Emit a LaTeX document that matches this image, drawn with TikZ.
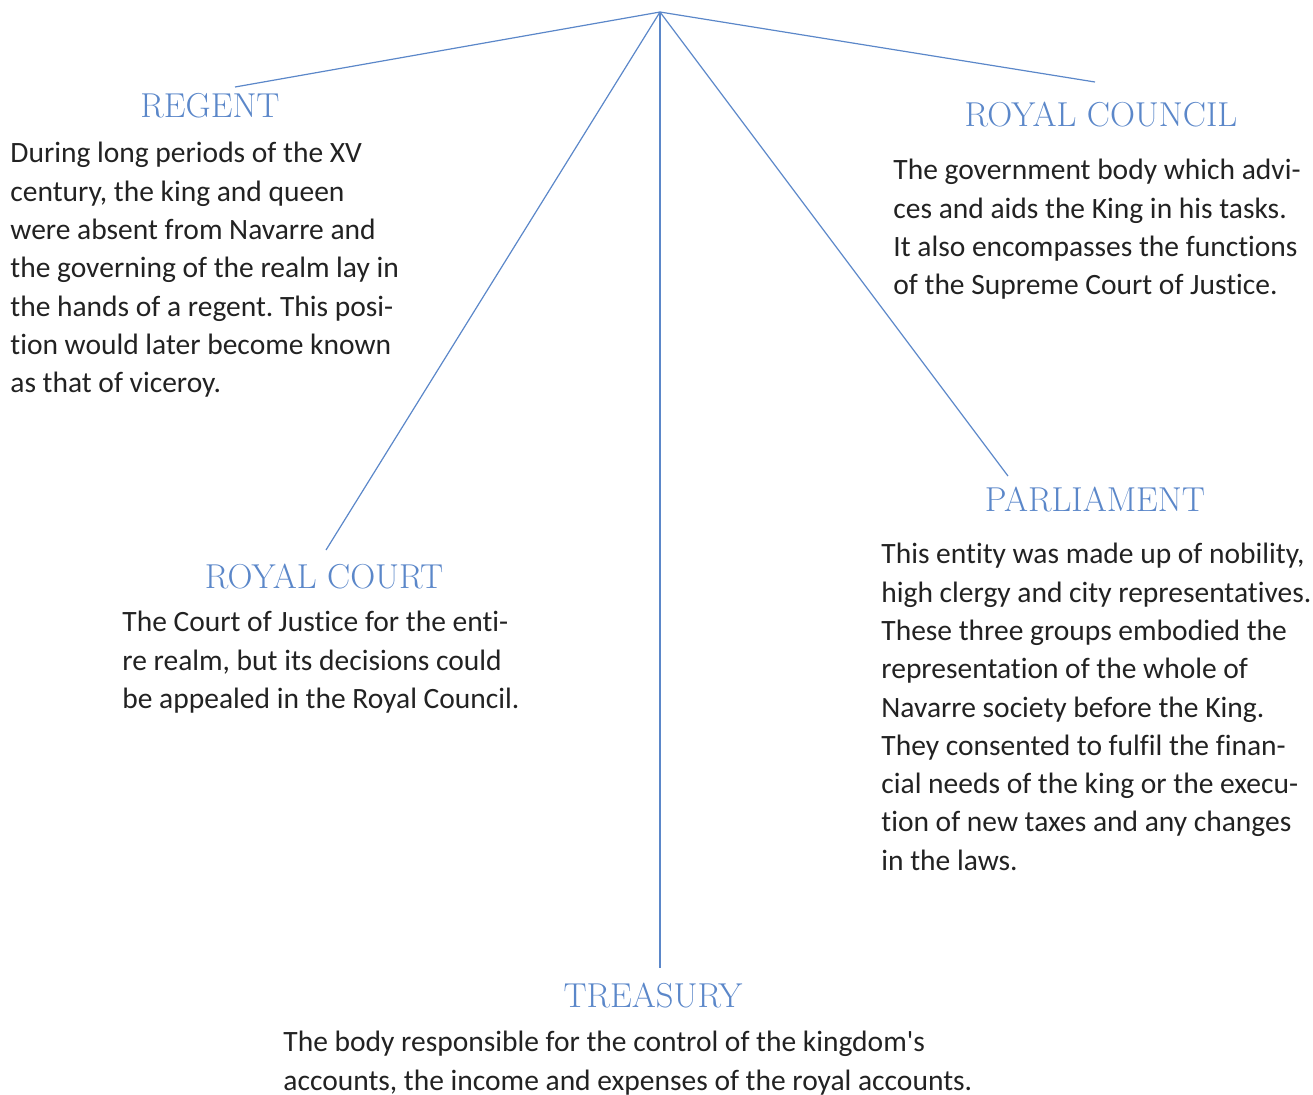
\documentclass[tikz,border=0pt]{standalone}
\usepackage{fontspec}
\setmainfont{Carlito}[Ligatures={NoCommon, TeXOff}, RawFeature={-liga;-clig;-dlig;-calt}]
\usepackage{xcolor}
\definecolor{titleblue}{RGB}{91,135,201}
\definecolor{bodygray}{RGB}{34,34,34}
\newfontfamily\titlefont{Latin Modern Roman}
\frenchspacing

\begin{document}
\begin{tikzpicture}[x=0.5pt, y=-0.5pt,
    title/.style={anchor=base, inner sep=0, text=titleblue, font={\titlefont\fontsize{17.3}{20}\selectfont}},
    body/.style={anchor=north west, inner sep=0, align=left, text=bodygray, font={\fontsize{14.75}{19.15}\selectfont}},
    link/.style={titleblue, line width=0.6pt}]
            \useasboundingbox (0,0) rectangle (1313,1094);

            \coordinate (top) at (660, 12);
            \coordinate (e1) at (235, 87);
            \coordinate (e2) at (1095, 82);
            \coordinate (e3) at (326, 550);
            \coordinate (e4) at (1008, 476);
            \coordinate (e5) at (660, 968);

            \node[title] at (210, 117)   (regent) {REGENT};
            \node[title] at (1101, 126)  (council) {ROYAL COUNCIL};
            \node[title] at (324, 588)   (court) {ROYAL COURT};
            \node[title] at (1095, 511)  (parliament) {PARLIAMENT};
            \node[title] at (653, 1007)  (treasury) {TREASURY};

            \node[body] at (10, 142)   (regenttext) {During long periods of the XV\\century, the king and queen\\were absent from Navarre and\\the governing of the realm lay in\\the hands of a regent. This posi-\\tion would later become known\\as that of viceroy.};
            \node[body] at (893, 159)  (counciltext) {The government body which advi-\\ces and aids the King in his tasks.\\It also encompasses the functions\\of the Supreme Court of Justice.};
            \node[body] at (122, 611)  (courttext) {The Court of Justice for the enti-\\re realm, but its decisions could\\be appealed in the Royal Council.};
            \node[body] at (881, 543)  (parliamenttext) {This entity was made up of nobility,\\high clergy and city representatives.\\These three groups embodied the\\representation of the whole of\\Navarre society before the King.\\They consented to fulfil the finan-\\cial needs of the king or the execu-\\tion of new taxes and any changes\\in the laws.};
            \node[body] at (283, 1031) (treasurytext) {The body responsible for the control of the kingdom's\\accounts, the income and expenses of the royal accounts.};

            \draw [link] (top) -- (e1);
            \draw [link] (top) -- (e2);
            \draw [link] (top) -- (e3);
            \draw [link] (top) -- (e4);
            \draw [link] (top) -- (e5);
            
        \end{tikzpicture}
\end{document}
